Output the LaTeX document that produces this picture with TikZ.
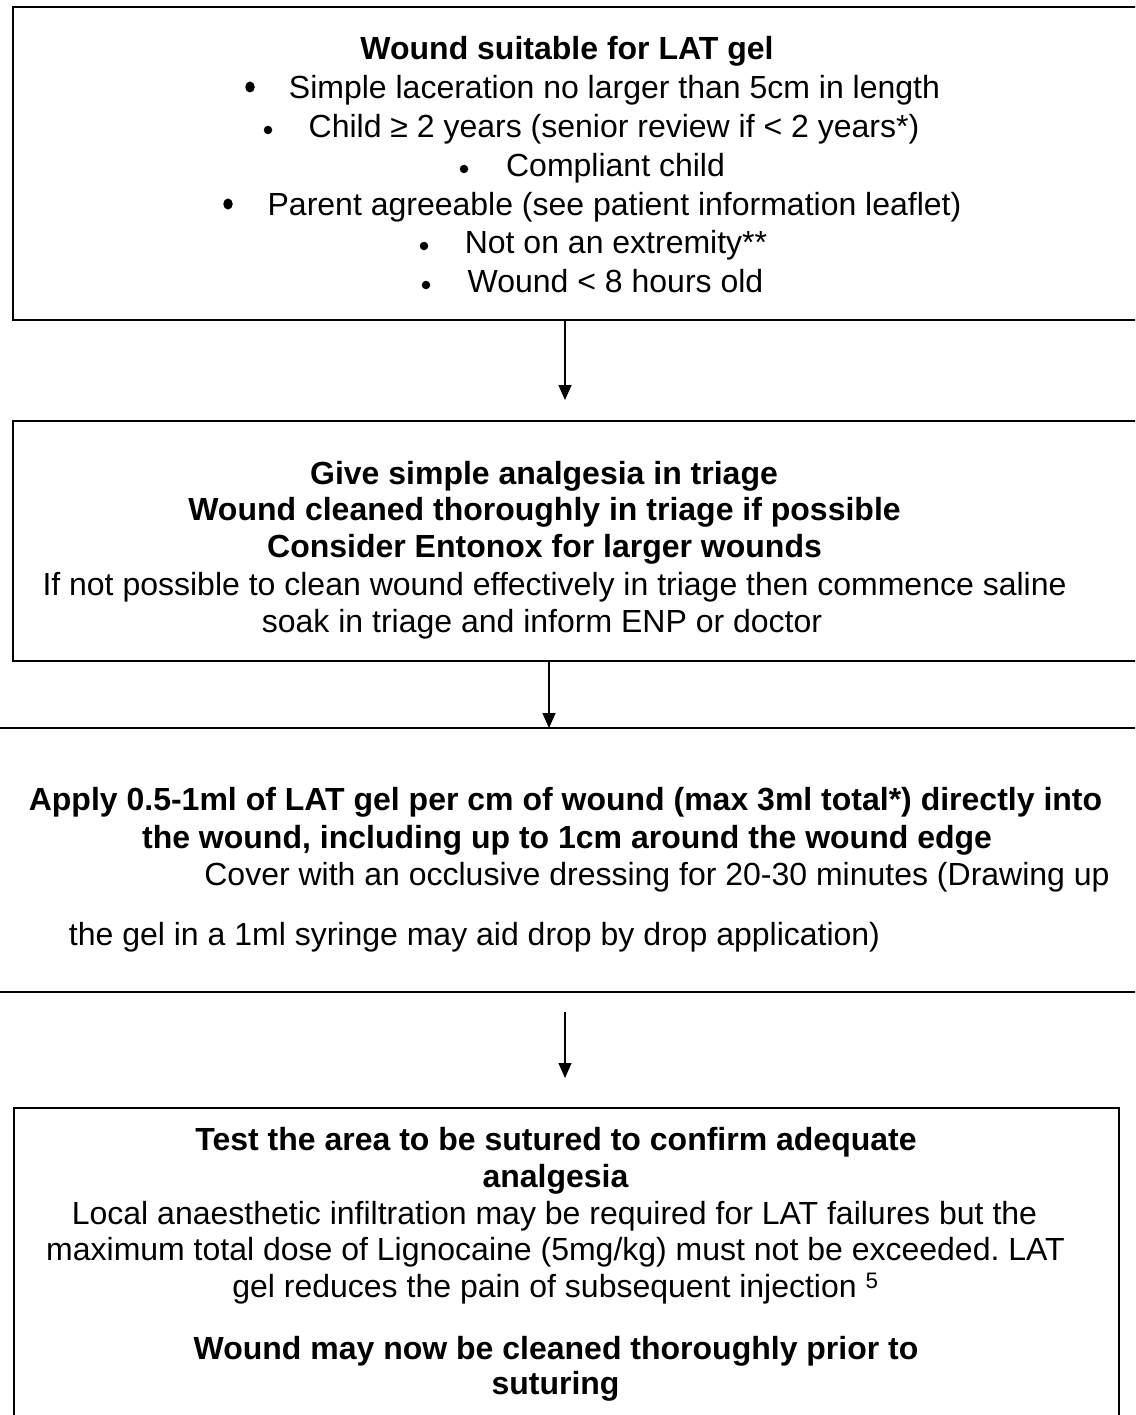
\documentclass[tikz,border=0pt]{standalone}
\usepackage{fontspec}
\setmainfont{Liberation Sans}
\usetikzlibrary{arrows.meta,shapes.geometric}
\frenchspacing
\tikzset{
  box/.style={draw=black, rectangle, inner sep=0pt, outer sep=0pt},
  txt/.style={inner sep=0pt, text height=0.75em, text depth=0.25em, font=\fontsize{32}{38}\selectfont},
  btxt/.style={txt, font=\fontsize{32}{38}\selectfont\bfseries},
  bul/.style={circle, fill=black, inner sep=0pt, minimum size=8.5pt},
  bigbul/.style={ellipse, fill=black, inner sep=0pt, minimum width=9.5pt, minimum height=11pt},
  arr/.style={draw=black, line width=1.3pt, -{Triangle[length=15pt,width=13pt]}}
}
\begin{document}
\begin{tikzpicture}[x=1pt, y=-1pt]
\useasboundingbox (0,0) rectangle (1135,1415);
\clip (0,0) rectangle (1135,1415);

% boxes
\node[box, line width=2.2pt, minimum width=1137pt, minimum height=313pt] (b1) at (581.5,163.5) {};
\node[box, line width=1.8pt, minimum width=1137pt, minimum height=240pt] (b2) at (581.5,541) {};
\node[box, line width=2.2pt, minimum width=1165pt, minimum height=264pt] (b3) at (567.5,860) {};
\node[box, line width=2.2pt, minimum width=1105pt, minimum height=332pt] (b4) at (566.5,1274) {};

% box 1 text
\node[btxt] (t1) at (567,57) {Wound suitable for LAT gel};
\node[bigbul] (p1) at (250,87) {};
\node[txt] (l1) at (614.5,96) {Simple laceration no larger than 5cm in length};
\node[bul] (p2) at (268,130) {};
\node[txt] (l2) at (614,135) {Child ≥ 2 years (senior review if < 2 years*)};
\node[bul] (p3) at (464,169) {};
\node[txt] (l3) at (615.5,174) {Compliant child};
\node[bigbul] (p4) at (228,204) {};
\node[txt] (l4) at (614.5,213) {Parent agreeable (see patient information leaflet)};
\node[bul] (p5) at (424,246) {};
\node[txt] (l5) at (616,251) {Not on an extremity**};
\node[bul] (p6) at (426,285) {};
\node[txt] (l6) at (615.5,290) {Wound < 8 hours old};

% box 2 text
\node[btxt] (m1) at (544,482) {Give simple analgesia in triage};
\node[btxt] (m2) at (544.5,518) {Wound cleaned thoroughly in triage if possible};
\node[btxt] (m3) at (544.5,555) {Consider Entonox for larger wounds};
\node[txt] (m4) at (554.5,593) {If not possible to clean wound effectively in triage then commence saline};
\node[txt] (m5) at (542,630) {soak in triage and inform ENP or doctor};

% box 3 text
\node[btxt] (n1) at (565.5,808) {Apply 0.5-1ml of LAT gel per cm of wound (max 3ml total*) directly into};
\node[btxt] (n2) at (567,846) {the wound, including up to 1cm around the wound edge};
\node[txt] (n3) at (657,883) {Cover with an occlusive dressing for 20-30 minutes (Drawing up};
\node[txt] (n4) at (474.5,943) {the gel in a 1ml syringe may aid drop by drop application)};

% box 4 text
\node[btxt] (q1) at (556,1148) {Test the area to be sutured to confirm adequate};
\node[btxt] (q2) at (555.5,1185) {analgesia};
\node[txt] (q3) at (554.5,1222) {Local anaesthetic infiltration may be required for LAT failures but the};
\node[txt] (q4) at (555.5,1258) {maximum total dose of Lignocaine (5mg/kg) must not be exceeded. LAT};
\node[txt] (q5) at (555.5,1295) {gel reduces the pain of subsequent injection \textsuperscript{5}};
\node[btxt] (q6) at (556,1357) {Wound may now be cleaned thoroughly prior to};
\node[btxt] (q7) at (555.5,1392) {suturing};

% connectors
\coordinate (a1end) at (565,400);
\draw[arr] (b1.south -| a1end) -- (a1end);
\coordinate (a2x) at (549,700);
\draw[arr] (b2.south -| a2x) -- (b3.north -| a2x);
\coordinate (a3start) at (565,1012);
\coordinate (a3end) at (565,1078);
\draw[arr] (a3start) -- (a3end);
\end{tikzpicture}
\end{document}
